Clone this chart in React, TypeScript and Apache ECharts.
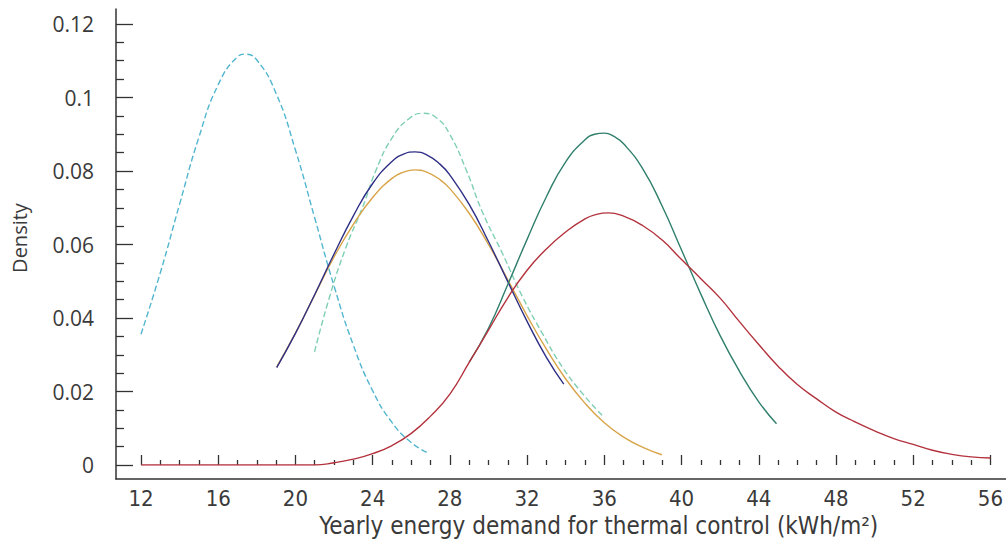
import React, { useEffect, useRef } from "react";
import * as echarts from "echarts";

// Axis ticks
const xTicks = [12, 16, 20, 24, 28, 32, 36, 40, 44, 48, 52, 56];
const yTicks = [0, 0.02, 0.04, 0.06, 0.08, 0.1, 0.12];

const xTitle = "Yearly energy demand for thermal control (kWh/m²)";
const yTitle = "Density";

// Light blue dashed curve
const cyanX = [12, 13, 14, 15, 16, 17, 17.4, 18, 19, 20, 21, 22, 23, 24, 25, 26, 26.9];
const cyanY = [0.0356, 0.0523, 0.071, 0.0892, 0.1035, 0.1111, 0.1118, 0.1102, 0.1011, 0.0857, 0.0672, 0.0487, 0.0326, 0.0202, 0.0116, 0.0061, 0.0032];

// Pale teal dashed curve
const tealX = [20.99, 21.77, 22.63, 23.49, 24.18, 25.04, 25.9, 26.59, 27.3, 27.97, 28.83, 29.69, 30.72, 31.76, 32.79, 33.82, 34.86, 35.89];
const tealY = [0.0308, 0.0458, 0.0594, 0.0703, 0.0803, 0.0893, 0.0943, 0.0957, 0.0945, 0.0902, 0.0805, 0.0688, 0.0576, 0.0458, 0.0358, 0.0267, 0.0195, 0.0135];

// Orange curve
const orangeX = [19.03, 20, 21, 22, 23, 24, 25, 25.6, 26.2, 26.8, 27.5, 28, 29, 30, 31, 32, 33, 34, 35, 36, 37, 38, 38.98];
const orangeY = [0.0267, 0.0359, 0.0463, 0.0566, 0.0655, 0.0728, 0.078, 0.0797, 0.0803, 0.0797, 0.0776, 0.0752, 0.0685, 0.06, 0.0504, 0.0406, 0.0315, 0.0234, 0.0168, 0.0115, 0.0076, 0.0048, 0.0028];

// Navy curve
const navyX = [19.03, 20, 21, 22, 23, 24, 25, 25.6, 26.2, 26.8, 27.5, 28, 29, 30, 31, 32, 33, 33.9];
const navyY = [0.0265, 0.0358, 0.0464, 0.0574, 0.0678, 0.0766, 0.0826, 0.0846, 0.0852, 0.0844, 0.0818, 0.0789, 0.0709, 0.0608, 0.0499, 0.0391, 0.0293, 0.022];

// Dark green curve
const greenX = [29, 30, 31, 32, 33, 34, 35, 35.5, 36, 36.5, 37, 38, 39, 40, 41, 42, 43, 44, 44.92];
const greenY = [0.028, 0.0372, 0.0491, 0.0614, 0.073, 0.0825, 0.0885, 0.09, 0.0903, 0.0894, 0.0874, 0.0805, 0.0704, 0.0585, 0.0465, 0.0352, 0.0255, 0.0172, 0.0112];

// Red curve
const redX = [12, 14, 16, 18, 20, 21, 22, 23, 24, 25, 26, 27, 28, 29, 30, 31, 32, 33, 34, 35, 35.6, 36.2, 37, 38, 39, 40, 41, 42, 43, 44, 45, 46, 47, 48, 49, 50, 51, 52, 53, 54, 55, 56];
const redY = [0, 0, 0, 0, 0, 0, 0.0006, 0.0016, 0.0031, 0.0053, 0.0086, 0.0133, 0.0193, 0.0279, 0.0367, 0.0455, 0.053, 0.0588, 0.0634, 0.067, 0.0682, 0.0686, 0.0677, 0.0651, 0.0612, 0.0559, 0.0507, 0.0454, 0.039, 0.0328, 0.0269, 0.0219, 0.018, 0.0144, 0.0117, 0.0093, 0.0072, 0.0056, 0.004, 0.0029, 0.0022, 0.0019];

const pairs = (xs: number[], ys: number[]) => xs.map((x, i) => [x, ys[i]]);

export default function App() {
  const ref = useRef<HTMLDivElement>(null);
  useEffect(() => {
    if (!ref.current) return;
    const chart = echarts.init(ref.current, null, { renderer: "svg" });
    const axisColor = "#333333";
    const textColor = "#3a3a3a";
    const narrow = "DejaVu Sans Condensed";
    const line = (name: string, xs: number[], ys: number[], color: string, dashed: boolean, width = 1.4) => ({
      name,
      type: "line",
      xAxisIndex: 0,
      yAxisIndex: 0,
      data: pairs(xs, ys),
      showSymbol: false,
      symbol: "none",
      smooth: true,
      lineStyle: { color, width, type: dashed ? [6, 3] : "solid" },
      itemStyle: { color },
      silent: true,
    });
    const option: any = {
      animation: false,
      backgroundColor: "#ffffff",
      grid: [
        { left: 141, top: 24, width: 851.5, height: 441 },
        { left: 116, top: 9, width: 890, height: 470 },
      ],
      graphic: [
        {
          type: "text",
          x: 9,
          y: 238,
          rotation: Math.PI / 2,
          style: {
            text: yTitle,
            fill: textColor,
            font: "20px 'Open Sans', sans-serif",
            align: "center",
            verticalAlign: "top",
          },
        },
      ],
      xAxis: [
        {
          gridIndex: 0,
          type: "value",
          position: "bottom",
          min: xTicks[0],
          max: xTicks[xTicks.length - 1],
          interval: xTicks[1] - xTicks[0],
          offset: 14,
          axisLine: { show: false },
          axisTick: { show: true, inside: true, length: 10, lineStyle: { color: axisColor, width: 1.3 } },
          minorTick: { show: true, splitNumber: 4, length: 5, lineStyle: { color: axisColor, width: 1.3 } },
          splitLine: { show: false },
          axisLabel: { color: textColor, fontFamily: narrow, fontSize: 22, margin: 8 },
          name: xTitle,
          nameLocation: "middle",
          nameGap: 29,
          nameTextStyle: { color: textColor, fontFamily: narrow, fontSize: 24, padding: [0, 0, 0, 66] },
        },
        {
          gridIndex: 1,
          type: "value",
          min: 0,
          max: 1,
          axisLine: { show: true, lineStyle: { color: axisColor, width: 1.5 } },
          axisTick: { show: false },
          axisLabel: { show: false },
          splitLine: { show: false },
        },
      ],
      yAxis: [
        {
          gridIndex: 0,
          type: "value",
          min: yTicks[0],
          max: yTicks[yTicks.length - 1],
          interval: yTicks[1] - yTicks[0],
          offset: 25,
          axisLine: { show: false },
          axisTick: { show: true, inside: true, length: 17, lineStyle: { color: axisColor, width: 1.3 } },
          minorTick: { show: true, splitNumber: 4, length: 8, lineStyle: { color: axisColor, width: 1.3 } },
          splitLine: { show: false },
          axisLabel: { color: textColor, fontFamily: "'Open Sans', sans-serif", fontSize: 21, margin: 22 },
        },
        {
          gridIndex: 1,
          type: "value",
          min: 0,
          max: 1,
          axisLine: { show: true, lineStyle: { color: axisColor, width: 1.5 } },
          axisTick: { show: false },
          axisLabel: { show: false },
          splitLine: { show: false },
        },
      ],
      series: [
        line("A", cyanX, cyanY, "#52b6cf", true),
        line("B", tealX, tealY, "#7fcfb2", true),
        line("C", orangeX, orangeY, "#d8a449", false),
        line("D", navyX, navyY, "#2e2e86", false),
        line("E", greenX, greenY, "#2f7f6c", false),
        line("F", redX, redY, "#b3323d", false),
      ],
    };
    chart.setOption(option);
    return () => chart.dispose();
  }, []);
  return (
    <div
      ref={ref}
      style={{ position: "fixed", left: 0, top: 0, width: 1006, height: 546, background: "#fff" }}
    />
  );
}
